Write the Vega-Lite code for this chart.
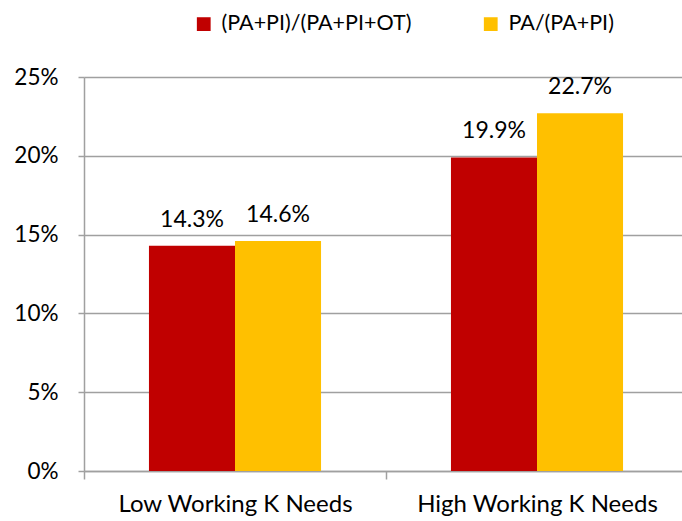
{
  "$schema": "https://vega.github.io/schema/vega-lite/v6.json",
  "width": 598,
  "height": 394,
  "autosize": "none",
  "padding": {"left": 84, "top": 77, "right": 0, "bottom": 50},
  "config": {
    "view": {"stroke": null},
    "font": "Lato",
    "axis": {"labelFont": "Lato", "labelColor": "#000000"}
  },
  "data": {
    "values": [
      {"group": "Low Working K Needs", "series": "(PA+PI)/(PA+PI+OT)", "value": 0.143},
      {"group": "Low Working K Needs", "series": "PA/(PA+PI)", "value": 0.146},
      {"group": "High Working K Needs", "series": "(PA+PI)/(PA+PI+OT)", "value": 0.199},
      {"group": "High Working K Needs", "series": "PA/(PA+PI)", "value": 0.227}
    ]
  },
  "encoding": {
    "x": {
      "field": "group", "type": "nominal", "sort": ["Low Working K Needs", "High Working K Needs"],
      "scale": {"paddingInner": 0, "paddingOuter": 0, "range": [0, 604]},
      "axis": {"title": null, "labelAngle": 0, "labelFontSize": 24, "labelLimit": 400, "tickBand": "extent", "domainColor": "#A0A0A0", "domainWidth": 1.5, "tickColor": "#A0A0A0", "tickWidth": 1.5, "tickSize": 8, "labelPadding": 13}
    },
    "xOffset": {
      "field": "series", "type": "nominal", "sort": ["(PA+PI)/(PA+PI+OT)", "PA/(PA+PI)"],
      "scale": {"paddingInner": 0, "paddingOuter": 0.755}
    },
    "y": {
      "field": "value", "type": "quantitative",
      "scale": {"domain": [0, 0.25], "nice": false},
      "axis": {"title": null, "format": ".0%", "labelFontSize": 22.5, "values": [0, 0.05, 0.1, 0.15, 0.2, 0.25], "grid": true, "gridColor": "#A0A0A0", "gridWidth": 1.5, "domainColor": "#A0A0A0", "domainWidth": 1.5, "tickColor": "#A0A0A0", "tickWidth": 1.5, "tickSize": 6, "labelPadding": 20}
    }
  },
  "layer": [
    {
      "mark": {"type": "bar"},
      "encoding": {
        "color": {
          "field": "series", "type": "nominal", "sort": ["(PA+PI)/(PA+PI+OT)", "PA/(PA+PI)"],
          "scale": {"range": ["#C00000", "#FFC000"]},
          "legend": {"title": null, "orient": "none", "direction": "horizontal", "legendX": 109, "legendY": -64, "symbolType": "square", "symbolSize": 190, "symbolStrokeWidth": 0, "labelFontSize": 21.5, "labelFont": "Lato", "labelColor": "#000000", "columnPadding": 68, "labelOffset": 7, "labelLimit": 400}
        }
      }
    },
    {
      "mark": {"type": "text", "baseline": "alphabetic", "dy": -19, "fontSize": 23, "font": "Lato", "color": "#000000"},
      "encoding": {
        "text": {"field": "value", "type": "quantitative", "format": ".1%"}
      }
    }
  ]
}
